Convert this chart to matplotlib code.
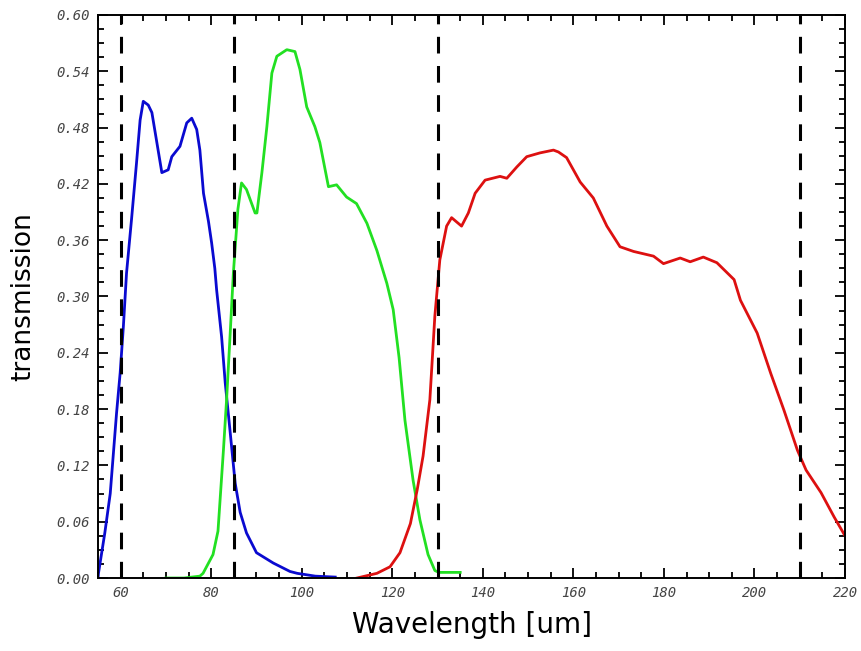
import matplotlib
matplotlib.use("Agg")
import matplotlib.pyplot as plt
from matplotlib.ticker import MultipleLocator, FormatStrFormatter

# Blue band (~70 um)
blue_x = [55.0, 55.1, 56.5, 57.7, 58.4, 59.1, 59.9, 60.6, 61.3, 62.4, 63.5, 64.3, 65.0, 66.1,
          66.9, 68.0, 69.1, 70.5, 71.3, 73.1, 74.6, 75.7, 76.8, 77.5, 78.3, 79.4, 80.1,
          80.8, 81.2, 82.3, 83.1, 84.2, 85.3, 86.4, 87.8, 90.0, 93.7, 97.4, 99.0, 103.0,
          107.4]
blue_y = [0.0, 0.005, 0.048, 0.09, 0.133, 0.176, 0.219, 0.268, 0.325, 0.382, 0.442, 0.488,
          0.508, 0.504, 0.496, 0.464, 0.432, 0.435, 0.449, 0.46, 0.485, 0.49, 0.478, 0.456,
          0.41, 0.38, 0.357, 0.33, 0.307, 0.257, 0.208, 0.155, 0.101, 0.07, 0.048, 0.027,
          0.016, 0.007, 0.005, 0.002, 0.001]

# Green band (~100 um)
green_x = [70.0, 74.0, 77.5, 78.2, 80.4, 81.5, 82.7, 83.4, 84.2, 84.9, 85.9, 86.7, 87.8, 89.7,
           90.1, 91.2, 92.3, 93.4, 94.5, 96.7, 98.5, 99.6, 101.1, 102.9, 104.0, 105.9,
           107.7, 109.9, 112.1, 114.4, 116.6, 118.8, 120.2, 121.5, 122.8, 124.6, 126.1,
           127.9, 129.4, 130.3, 135.0]
green_y = [0.0, 0.0, 0.002, 0.005, 0.025, 0.05, 0.136, 0.19, 0.261, 0.325, 0.393, 0.421,
           0.414, 0.389, 0.389, 0.432, 0.481, 0.538, 0.556, 0.563, 0.561, 0.542, 0.502,
           0.481, 0.464, 0.417, 0.419, 0.406, 0.399, 0.378, 0.349, 0.314, 0.286, 0.235,
           0.168, 0.104, 0.062, 0.025, 0.008, 0.006, 0.006]

# Red band (~160 um)
red_x = [112.2, 116.6, 119.5, 121.7, 124.0, 125.5, 126.8, 128.3, 129.4, 130.5, 132.0, 133.1,
         135.3, 136.8, 138.3, 140.5, 143.8, 145.3, 147.5, 149.7, 152.6, 155.6, 156.7,
         158.5, 161.5, 164.4, 167.4, 170.3, 173.3, 177.7, 179.9, 183.6, 185.8, 188.7,
         191.7, 195.5, 196.9, 200.6, 203.6, 206.5, 209.5, 211.4, 214.7, 217.6, 220.0]
red_y = [0.0, 0.005, 0.012, 0.027, 0.058, 0.094, 0.13, 0.19, 0.279, 0.339, 0.375, 0.384,
         0.375, 0.389, 0.41, 0.424, 0.428, 0.426, 0.438, 0.449, 0.453, 0.456, 0.454,
         0.448, 0.422, 0.405, 0.375, 0.353, 0.348, 0.343, 0.335, 0.341, 0.337, 0.342,
         0.336, 0.318, 0.296, 0.261, 0.218, 0.179, 0.136, 0.115, 0.091, 0.065, 0.045]

band_edges = [60, 85, 130, 210]

plt.rcParams['lines.scale_dashes'] = False
fig = plt.figure(figsize=(8.62, 6.51), dpi=100)
ax = fig.add_axes([0.1137, 0.1121, 0.8666, 0.8649])

ax.plot(blue_x, blue_y, color='#0a0ad0', lw=2.0)
ax.plot(green_x, green_y, color='#22e022', lw=2.0)
ax.plot(red_x, red_y, color='#dd1010', lw=2.0)

for e in band_edges:
    ax.axvline(e, color='black', lw=2.2, dashes=(12, 9))

ax.set_xlim(55, 220)
ax.set_ylim(0, 0.60)
ax.xaxis.set_major_locator(MultipleLocator(20))
ax.xaxis.set_minor_locator(MultipleLocator(5))
ax.yaxis.set_major_locator(MultipleLocator(0.06))
ax.yaxis.set_minor_locator(MultipleLocator(0.015))
ax.yaxis.set_major_formatter(FormatStrFormatter('%.2f'))
ax.xaxis.set_major_formatter(FormatStrFormatter('%d'))

ax.tick_params(which='both', direction='in', top=True, right=True, width=1.3)
ax.tick_params(which='major', length=7, labelsize=10, labelcolor='#444444', pad=6)
ax.tick_params(which='minor', length=4)
for lab in ax.get_xticklabels() + ax.get_yticklabels():
    lab.set_family('DejaVu Sans Mono')
    lab.set_style('italic')
for s in ax.spines.values():
    s.set_linewidth(1.4)

ax.set_xlabel('Wavelength [um]', fontsize=20, family='DejaVu Sans', labelpad=8)
ax.set_ylabel('transmission', fontsize=19, family='DejaVu Sans', labelpad=14)

fig.savefig('out.png', dpi=100)
